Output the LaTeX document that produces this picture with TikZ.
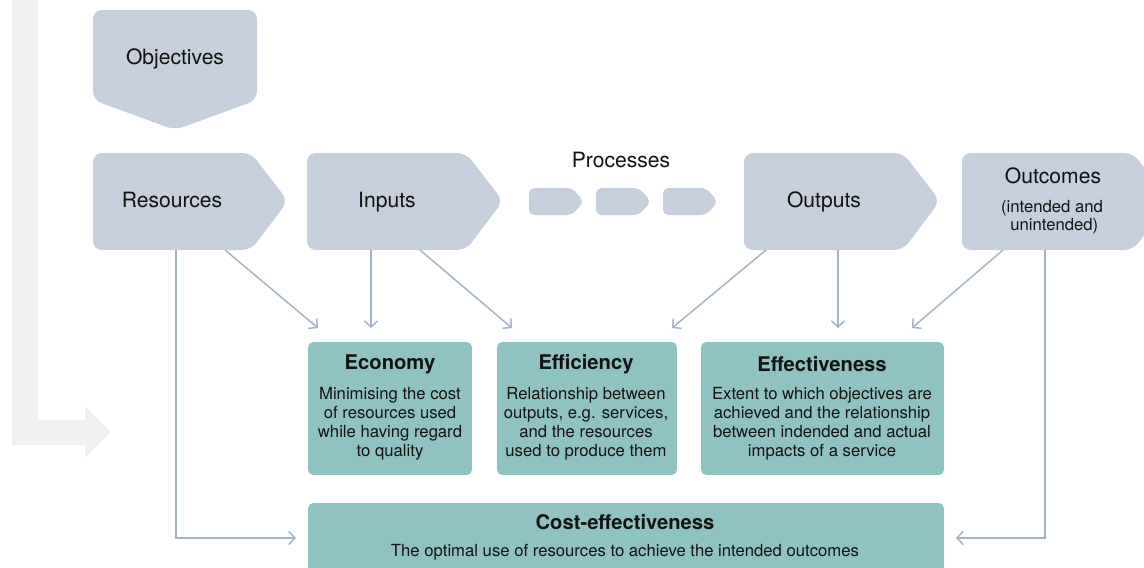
\documentclass[tikz,border=0pt]{standalone}
\usepackage{fontspec}
\setmainfont{TeX Gyre Heros}
\usetikzlibrary{arrows.meta}

\definecolor{shapegray}{RGB}{198,207,219}
\definecolor{boxteal}{RGB}{143,195,194}
\definecolor{linkblue}{RGB}{163,180,198}
\definecolor{bigarrow}{RGB}{240,240,240}
\definecolor{inkdark}{RGB}{18,18,18}

\begin{document}
\begin{tikzpicture}[x=0.02cm, y=-0.02cm,
    chevron/.style={fill=shapegray, rounded corners=5},
    head/.style={text=inkdark, text height=1.6ex, text depth=0.25ex, font=\fontsize{12}{14}\selectfont},
    valuebox/.style={fill=boxteal, rounded corners=3, inner sep=0pt, minimum height=2.66cm},
    boxtitle/.style={text=inkdark, font=\bfseries\fontsize{11.5}{13}\selectfont},
    boxtext/.style={text=inkdark, align=center, font=\fontsize{9.5}{10.9}\selectfont},
    link/.style={draw=linkblue, line width=0.85pt, -{Straight Barb[length=3.5pt,width=7.5pt]}}]
    \clip (0, 0) rectangle (1144, 568);

      % big grey return arrow
      \fill[bigarrow] (12, -5) -- (38, -5) -- (38, 420) -- (85, 420) -- (85, 406)
        -- (111, 432) -- (85, 458) -- (85, 445) -- (12, 445) -- cycle;

      % top row
      \fill[chevron] (93, 10) -- (257, 10) -- (257, 100) -- (175, 130) -- (93, 100) -- cycle;
        \node[head] (obj) at (175, 58){Objectives};

      \fill[chevron] (93, 153) -- (251, 153) -- (288, 201) -- (251, 250) -- (93, 250) -- cycle;
        \node[head] (res) at (172, 201){Resources};
      \fill[chevron] (307, 153) -- (466, 153) -- (503, 201) -- (466, 250) -- (307, 250) -- cycle;
        \node[head] (inp) at (387, 201){Inputs};

      \node[head] (proc) at (621, 161){Processes};
      \foreach \x in {529, 596, 663}
        \fill[shapegray, rounded corners=3] (\x, 188) -- (\x+43, 188) -- (\x+55, 201.5)
          -- (\x+43, 215) -- (\x, 215) -- cycle;

      \fill[chevron] (744, 153) -- (903, 153) -- (940, 201) -- (903, 250) -- (744, 250) -- cycle;
        \node[head] (outp) at (824, 201){Outputs};
      \fill[chevron] (962, 153) -- (1133, 153) -- (1170, 201) -- (1133, 250) -- (962, 250) -- cycle;
        \node[head] (outc) at (1053, 177){Outcomes};
        \node[boxtext, font=\fontsize{9.5}{10.6}\selectfont] (outcsub) at (1052, 217){(intended and\\ \ unintended)};

      % value for money boxes
      \node[valuebox, minimum width=3.28cm] (eco) at (390, 408.5){};
        \node[boxtitle] (ecot) at (390, 364){Economy};
        \node[boxtext] (ecob) at (390, 424){Minimising the cost\\of resources used\\while having regard\\to quality};
      \node[valuebox, minimum width=3.6cm] (eff) at (587, 408.5){};
        \node[boxtitle] (efft) at (586, 364){Efficiency};
        \node[boxtext] (effb) at (586, 424){Relationship between\\outputs, e.g. services,\\and the resources\\used to produce them};
      \node[valuebox, minimum width=4.86cm] (efv) at (822.5, 408.5){};
        \node[boxtitle] (efvt) at (822, 364){Effectiveness};
        \node[boxtext] (efvb) at (822, 424){Extent to which objectives are\\achieved and the relationship\\between indended and actual\\impacts of a service};
      \node[valuebox, minimum width=12.72cm, minimum height=1.84cm] (cost) at (626, 549){};
        \node[boxtitle] (costt) at (625, 522){Cost-effectiveness};
        \node[boxtext] (costb) at (625, 552){The optimal use of resources to achieve the intended outcomes};

      % connector ends
      \coordinate (resA) at (225, 250);
      \coordinate (resB) at (176, 250);
      \coordinate (inpA) at (371, 250);
      \coordinate (inpB) at (420, 250);
      \coordinate (outpA) at (766, 250);
      \coordinate (outpB) at (838, 250);
      \coordinate (outcA) at (1003, 250);
      \coordinate (outcB) at (1045, 250);
      \coordinate (ecoA) at (318, 328);
      \coordinate (ecoB) at (371, 328);
      \coordinate (effA) at (512, 328);
      \coordinate (effB) at (672, 328);
      \coordinate (efvA) at (838, 328);
      \coordinate (efvB) at (912, 328);
      \coordinate (costA) at (296, 538);
      \coordinate (costB) at (956, 538);

      \draw[link] (resA) -- (ecoA);
      \draw[link] (inpA) -- (ecoB);
      \draw[link] (inpB) -- (effA);
      \draw[link] (outpA) -- (effB);
      \draw[link] (outpB) -- (efvA);
      \draw[link] (outcA) -- (efvB);
      \draw[link] (resB) |- (costA);
      \draw[link] (outcB) |- (costB);

    \end{tikzpicture}
\end{document}
